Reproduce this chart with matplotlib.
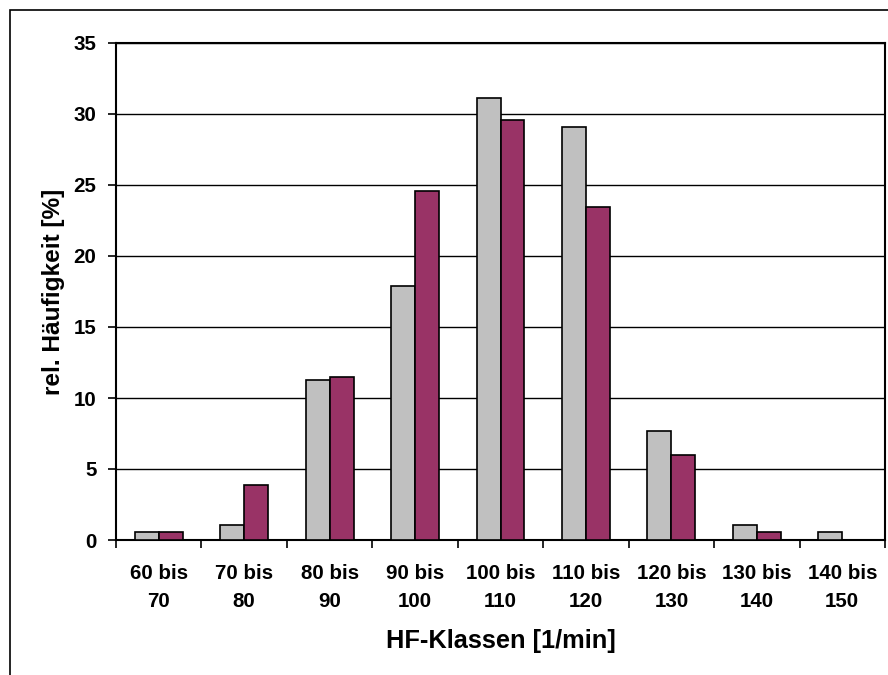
import numpy as np
import matplotlib
matplotlib.use("Agg")
import matplotlib.pyplot as plt
from matplotlib.patches import Rectangle

plt.rcParams['font.family'] = ['Liberation Sans', 'DejaVu Sans']
plt.rcParams['font.weight'] = 'bold'

# HF classes and relative frequencies
klassen = ["60 bis\n70", "70 bis\n80", "80 bis\n90", "90 bis\n100", "100 bis\n110",
           "110 bis\n120", "120 bis\n130", "130 bis\n140", "140 bis\n150"]
serie_grau = [0.56, 1.05, 11.25, 17.9, 31.1, 29.1, 7.7, 1.05, 0.56]
serie_lila = [0.56, 3.9, 11.45, 24.6, 29.55, 23.45, 6.0, 0.56, 0.0]

fig = plt.figure(figsize=(8.88, 6.75), dpi=100)
ax = fig.add_axes([116/888, 135/675, 769/888, 497/675])

x = np.arange(len(klassen))
w = 0.28
ax.bar(x - w/2, serie_grau, w, color='#C0C0C0', edgecolor='black', linewidth=1.2, zorder=3)
ax.bar(x + w/2, serie_lila, w, color='#993366', edgecolor='black', linewidth=1.2, zorder=3)

ax.set_xlim(-0.5, len(klassen) - 0.5)
ax.set_ylim(0, 35)
ax.set_yticks(np.arange(0, 36, 5))
ax.yaxis.grid(True, color='black', linewidth=1.0, zorder=0)
ax.set_axisbelow(True)

# category ticks at class boundaries, labels centred
ax.set_xticks(np.arange(-0.5, len(klassen), 1.0))
ax.set_xticklabels([])
ax.set_xticks(x, minor=True)
ax.set_xticklabels(klassen, minor=True, fontsize=14.8, fontweight='bold', linespacing=1.6)
ax.tick_params(axis='x', which='minor', length=0, pad=17)
ax.tick_params(axis='x', which='major', length=6, width=1.2, direction='out')
ax.tick_params(axis='y', length=6, width=1.2, direction='out', labelsize=14.8, pad=8)
for lab in ax.get_yticklabels():
    lab.set_fontweight('bold')

for s in ax.spines.values():
    s.set_linewidth(1.5)

ax.set_xlabel("HF-Klassen [1/min]", fontsize=18.3, fontweight='bold', labelpad=13)
ax.set_ylabel("rel. Häufigkeit [%]", fontsize=17.6, fontweight='bold', labelpad=6)

# outer frame of the chart area
fig.patches.append(Rectangle((10/888, -0.1), 1.0, 1.1 - 10/675, transform=fig.transFigure,
                             fill=False, edgecolor='black', linewidth=1.2))

fig.savefig("out.png", dpi=100)
